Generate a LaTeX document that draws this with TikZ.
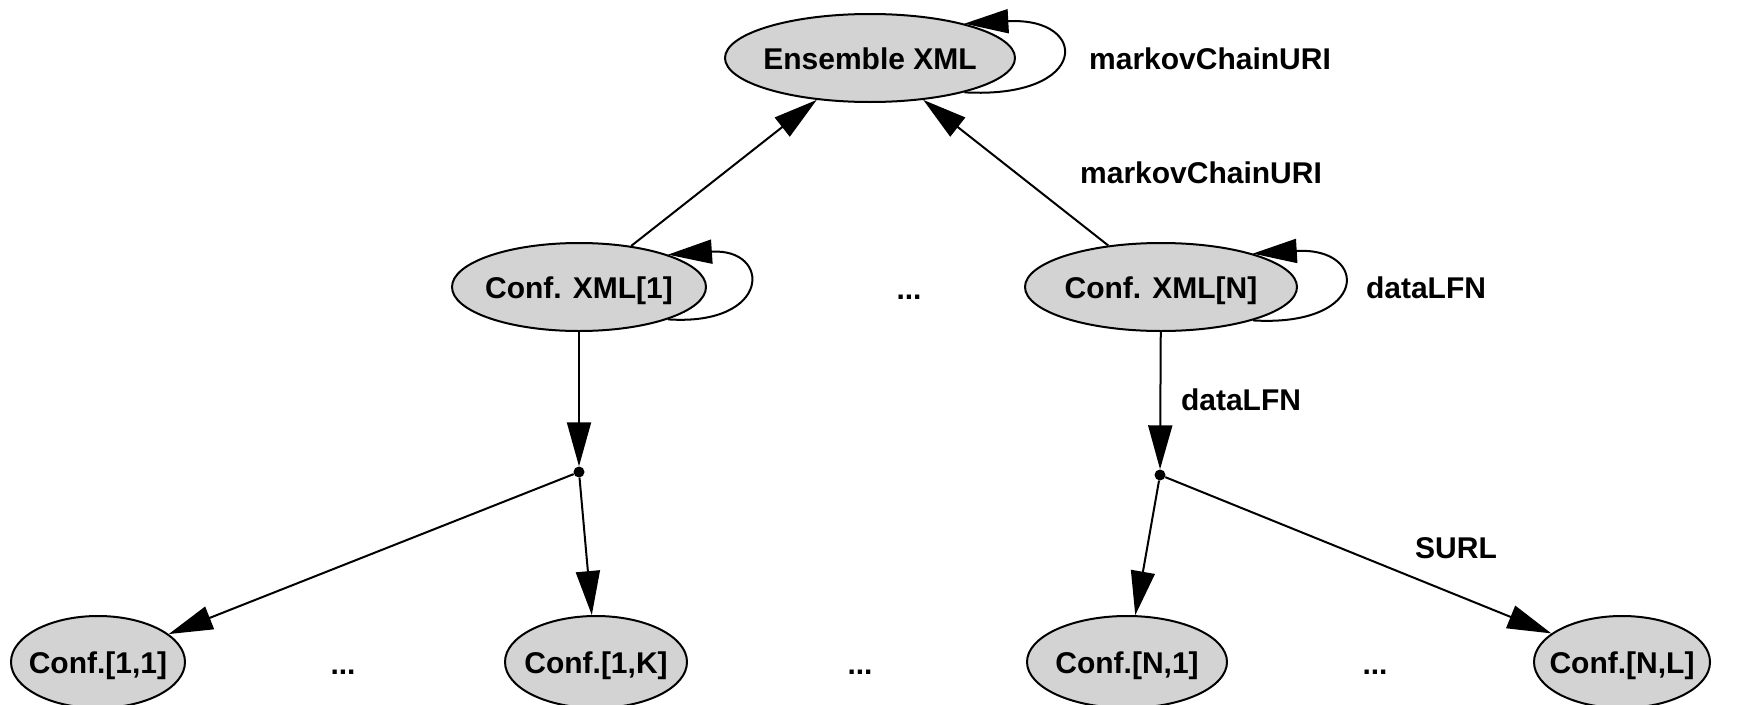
\documentclass[tikz,border=0pt]{standalone}
\usepackage{fontspec}
\setmainfont{Liberation Sans}
\usetikzlibrary{arrows.meta,shapes.geometric}
\definecolor{nodegray}{HTML}{D3D3D3}
\begin{document}
\begin{tikzpicture}[x=1pt,y=-1pt,
  every node/.style={font=\fontsize{30}{36}\selectfont\bfseries, text height=22pt, text depth=0pt},
  state/.style={ellipse, draw, line width=2pt, fill=nodegray, inner sep=0pt, minimum height=88pt},
  leaf/.style={state, minimum height=92pt},
  lbl/.style={inner sep=0pt},
  dot/.style={circle, fill=black, inner sep=0pt, minimum size=11pt, text height=0pt},
  edge/.style={line width=2pt, -{Triangle[length=44pt,width=24pt]}},
]
\path[use as bounding box] (0,0) rectangle (1739,704);

% top level
\node[state, minimum width=290pt] (ens) at (870,58) {\makebox[0pt]{Ensemble XML}};
\node[lbl] (ensloop) at (1210,58) {markovChainURI};

% configuration documents
\node[state, minimum width=254pt] (cx1) at (579,287) {\makebox[0pt]{Conf. XML[1]}};
\node[lbl] (midgap) at (909,288) {...};
\node[state, minimum width=272pt] (cxn) at (1161,287) {\makebox[0pt]{Conf. XML[N]}};
\node[lbl] (cxnloop) at (1426,287) {dataLFN};
\node[lbl] (uplbl) at (1201,172) {markovChainURI};
\node[lbl] (downlbl) at (1241,399) {dataLFN};

% branching points
\node[dot] (p1) at (579,472) {};
\node[dot] (pn) at (1160,475) {};

% leaves
\node[leaf, minimum width=174pt] (c11) at (98,662) {\makebox[0pt]{Conf.[1,1]}};
\node[lbl] (gapa) at (343,663) {...};
\node[leaf, minimum width=182pt] (c1k) at (596,662) {\makebox[0pt]{Conf.[1,K]}};
\node[lbl] (gapb) at (860,663) {...};
\node[leaf, minimum width=200pt] (cn1) at (1127,662) {\makebox[0pt]{Conf.[N,1]}};
\node[lbl] (gapc) at (1375,663) {...};
\node[leaf, minimum width=176pt] (cnl) at (1622,662) {\makebox[0pt]{Conf.[N,L]}};
\node[lbl] (surl) at (1456,547) {SURL};

% self loops
\draw[edge] (ens.-20) .. controls +(126,7) and +(126,-7) .. (ens.20);
\draw[edge] (cx1.-20) .. controls +(104,7) and +(104,-7) .. (cx1.20);
\draw[edge] (cxn.-20) .. controls +(117,7) and +(117,-7) .. (cxn.20);

% edges
\draw[edge] (cx1) -- (ens);
\draw[edge] (cxn) -- (ens);
\draw[edge] (cx1) -- (p1);
\draw[edge] (cxn) -- (pn);
\draw[edge] (p1) -- (c11);
\draw[edge] (p1) -- (c1k);
\draw[edge] (pn) -- (cn1);
\draw[edge] (pn) -- (cnl);
\end{tikzpicture}
\end{document}
